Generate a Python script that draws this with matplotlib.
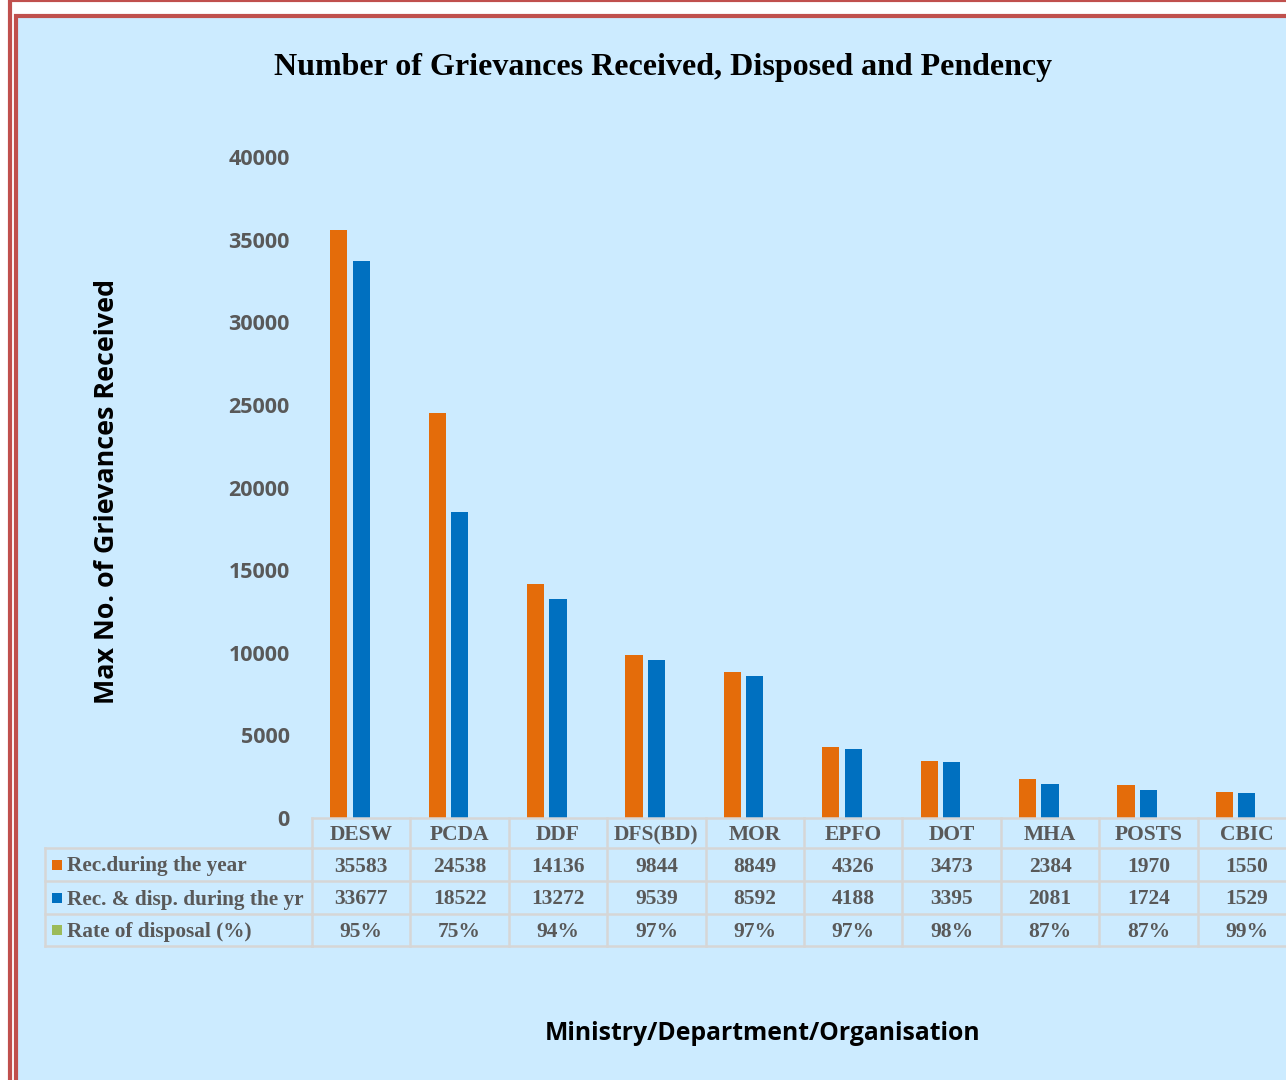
import matplotlib
matplotlib.use("Agg")
import matplotlib.pyplot as plt
import matplotlib.transforms as mtransforms
from matplotlib.patches import Rectangle
from matplotlib.lines import Line2D
import numpy as np

# data
orgs = ["DESW", "PCDA", "DDF", "DFS(BD)", "MOR", "EPFO", "DOT", "MHA", "POSTS", "CBIC"]
received = [35583, 24538, 14136, 9844, 8849, 4326, 3473, 2384, 1970, 1550]
disposed = [33677, 18522, 13272, 9539, 8592, 4188, 3395, 2081, 1724, 1529]
rate_pct = [95, 75, 94, 97, 97, 97, 98, 87, 87, 99]
series_names = ["Rec.during the year", "Rec. & disp. during the yr", "Rate of disposal (%)"]
yticks = [0, 5000, 10000, 15000, 20000, 25000, 30000, 35000, 40000]

ORANGE = "#E46C0A"
BLUE = "#0070C0"
GREEN = "#9BBB59"
BG = "#CCEBFF"
RED = "#C0504D"
GRID = "#D6D6D6"
TXT = "#595959"
SERIF = "Liberation Serif"
SANS = "Open Sans"

W, H = 1286, 1080
fig = plt.figure(figsize=(W / 100, H / 100), dpi=100, facecolor="white")


def fx(x):
    return x / W


def fy(y):
    return 1 - y / H


# double red frame (cut off on the right and bottom)
fig.add_artist(Rectangle((fx(9.5), fy(1200)), fx(1400), 1200 / H, transform=fig.transFigure,
                         facecolor="none", edgecolor=RED, lw=3.0, zorder=0))
fig.add_artist(Rectangle((fx(16), fy(1200)), fx(1400), 1184 / H, transform=fig.transFigure,
                         facecolor=BG, edgecolor=RED, lw=3.0, zorder=0))

# axes: left edge at DESW column, runs past the right edge
ax_l, ax_r, ax_t, ax_b = 312, 1296, 157, 818
ax = fig.add_axes([fx(ax_l), fy(ax_b), (ax_r - ax_l) / W, (ax_b - ax_t) / H])
ax.set_facecolor("none")

x = np.arange(len(orgs))
bw = 0.175
off = 0.228
ax.bar(x - off, received, bw, color=ORANGE)
ax.bar(x, disposed, bw, color=BLUE)
ax.bar(x + off, np.array(rate_pct) / 100, bw, color=GREEN)

ax.set_xlim(-0.5, len(orgs) - 0.5)
ax.set_ylim(0, 40000)
ax.set_yticks(yticks)
ax.set_yticklabels([str(v) for v in yticks], fontfamily=SANS, fontweight="bold",
                   fontsize=15.5, color=TXT)
ax.tick_params(axis="y", length=0, pad=16)
ax.set_xticks([])
for s in ax.spines.values():
    s.set_visible(False)

# data table under the axes
tr = mtransforms.blended_transform_factory(ax.transData, fig.transFigure)
row_y = [818, 848, 881, 914, 946]
right = len(orgs) - 0.5 + 1
lkw = dict(color=GRID, lw=1.8, clip_on=False, zorder=1)

fig.add_artist(Line2D([-0.5, right], [fy(818)] * 2, transform=tr, **lkw))
for yy in row_y[1:]:
    fig.add_artist(Line2D([fx(45), fx(ax_l)], [fy(yy)] * 2, transform=fig.transFigure, **lkw))
    fig.add_artist(Line2D([-0.5, right], [fy(yy)] * 2, transform=tr, **lkw))
for i in range(len(orgs) + 1):
    fig.add_artist(Line2D([i - 0.5] * 2, [fy(818), fy(946)], transform=tr, **lkw))
fig.add_artist(Line2D([fx(45)] * 2, [fy(848), fy(946)], transform=fig.transFigure, **lkw))

tkw = dict(transform=tr, ha="center", va="center", fontfamily=SERIF, fontweight="bold",
           fontsize=15.5, color=TXT)
rows = [
    [str(v) for v in received],
    [str(v) for v in disposed],
    [f"{v}%" for v in rate_pct],
]
for i, name in enumerate(orgs):
    fig.text(i, fy(835), name, **tkw)
    for r, vals in enumerate(rows):
        cy = (row_y[r + 1] + row_y[r + 2]) / 2 + 2
        fig.text(i, fy(cy), vals[i], **tkw)

for r, (name, col) in enumerate(zip(series_names, [ORANGE, BLUE, GREEN])):
    cy = (row_y[r + 1] + row_y[r + 2]) / 2
    fig.add_artist(Rectangle((fx(52), fy(cy + 5)), fx(10), 10 / H, transform=fig.transFigure,
                             facecolor=col, edgecolor="none"))
    fig.text(fx(67), fy(cy + 2), name, ha="left", va="center", fontfamily=SERIF,
             fontweight="bold", fontsize=15.3, color=TXT)

# titles
fig.text(fx(663), fy(67), "Number of Grievances Received, Disposed and Pendency",
         ha="center", va="center", fontfamily=SERIF, fontweight="bold", fontsize=23, color="black")
fig.text(fx(107), fy(491), "Max No. of Grievances Received", rotation=90,
         ha="center", va="center", fontfamily=SANS, fontweight="bold", fontsize=19.4, color="black")
fig.text(fx(763), fy(1034), "Ministry/Department/Organisation",
         ha="center", va="center", fontfamily=SANS, fontweight="bold", fontsize=17.8, color="black")

fig.savefig("out.png", dpi=100, facecolor="white")
